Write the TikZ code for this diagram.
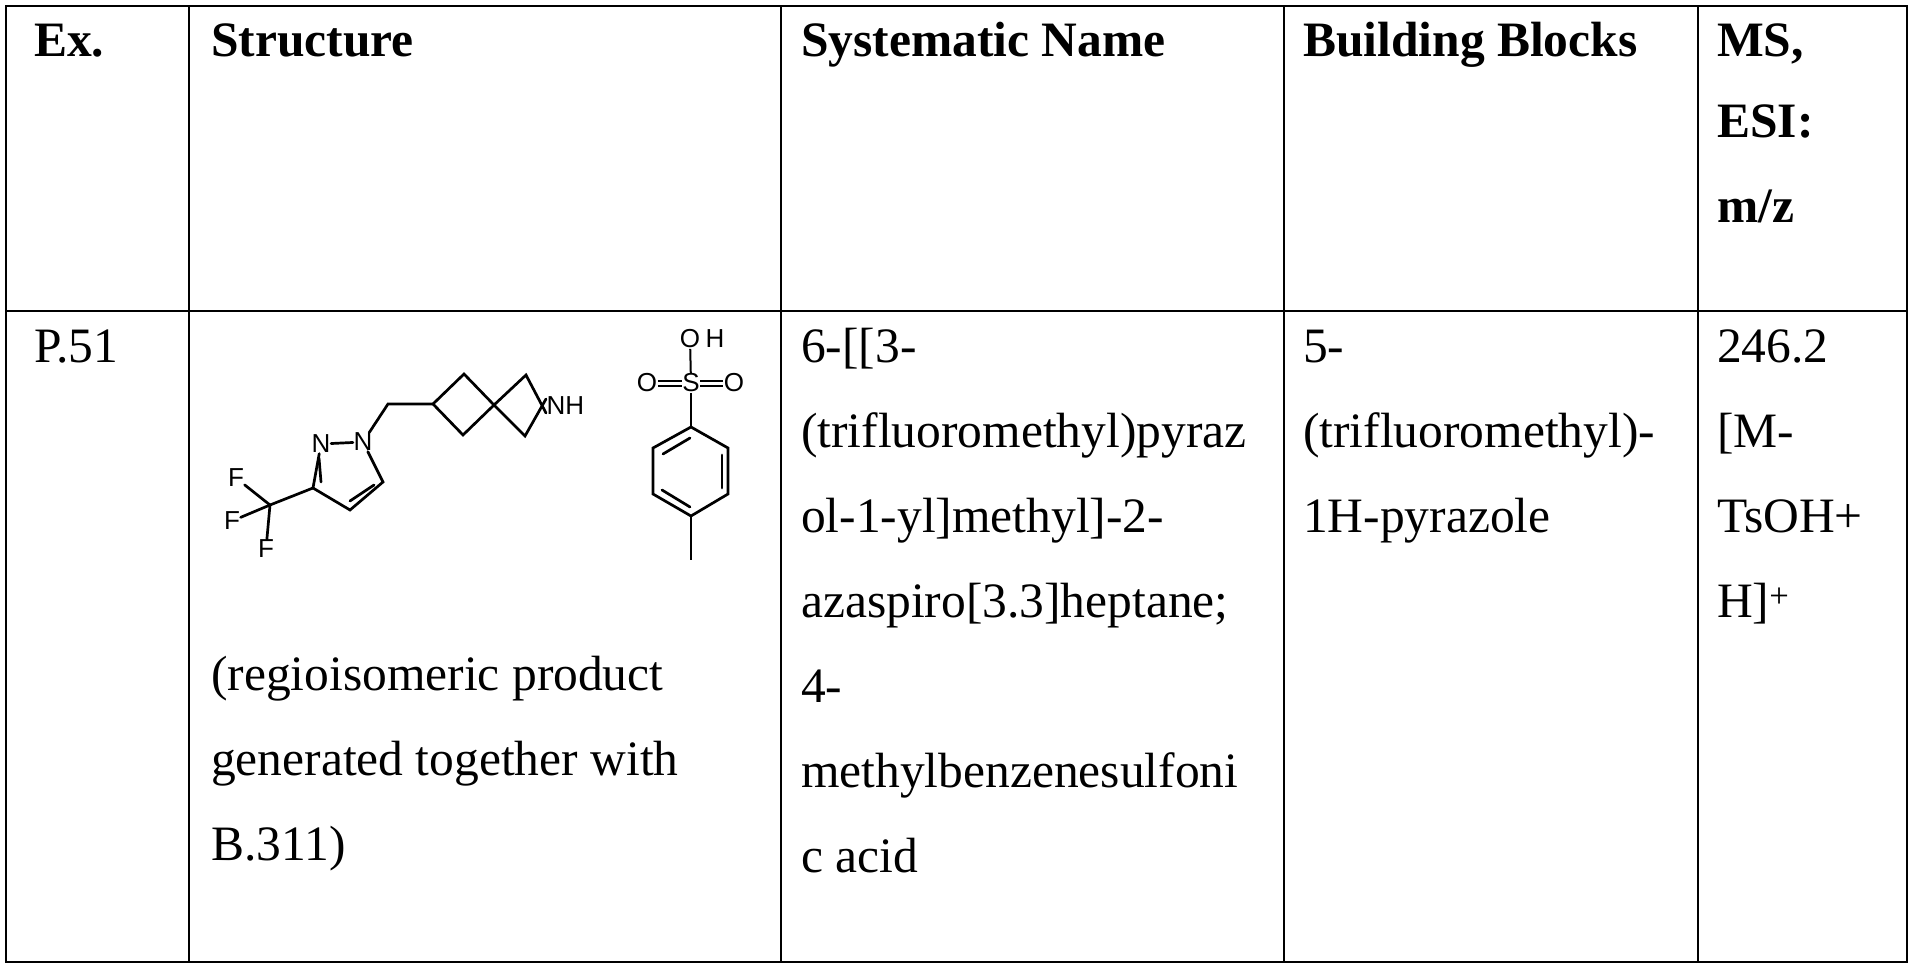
\documentclass[tikz,border=0pt]{standalone}
\usepackage{fontspec}
\setmainfont{Liberation Serif}
\newfontfamily\chemfont{Liberation Sans}
\begin{document}
\begin{tikzpicture}[x=1pt,y=-1pt,
  txt/.style={anchor=base west,inner sep=0pt,font=\fontsize{49.5}{85}\selectfont},
  hdr/.style={txt,font=\fontsize{49.5}{85}\selectfont\bfseries},
  grid/.style={line width=2pt},
  bond/.style={line width=2.7pt,line cap=round},
  thin/.style={line width=2pt},
  atom/.style={inner sep=0.5pt,font=\chemfont\fontsize{26}{26}\selectfont}]
\useasboundingbox (0,0) rectangle (1913,973);
\fill[white] (0,0) rectangle (1913,973);
% grid
\draw[grid] (6,6) rectangle (1907,962);
\draw[grid] (6,311) -- (1907,311);
\foreach \xx in {189,781,1284,1698} \draw[grid] (\xx,6) -- (\xx,962);
% header
\node[hdr] (h1) at (34,57) {Ex.};
\node[hdr] (h2) at (211,57) {Structure};
\node[hdr] (h3) at (801,57) {Systematic Name};
\node[hdr] (h4) at (1303,57) {Building Blocks};
\node[hdr] (h5a) at (1717,57) {MS,};
\node[hdr] (h5b) at (1717,138) {ESI:};
\node[hdr] (h5c) at (1717,223) {m/z};
% row
\node[txt] (ex) at (34,362) {P.51};
\foreach \t [count=\i] in {6-[[3-,(trifluoromethyl)pyraz,ol-1-yl]methyl]-2-,azaspiro[3.3]heptane;,4-,methylbenzenesulfoni,c acid}
  \node[txt] (sn\i) at (801,362+85*\i-85) {\t};
\node[txt] (bb1) at (1303,362) {5-};
\node[txt] (bb2) at (1303,447) {(trifluoromethyl)-};
\node[txt] (bb3) at (1303,532) {1H-pyrazole};
\node[txt] (ms1) at (1717,362) {246.2};
\node[txt] (ms2) at (1717,447) {[M-};
\node[txt] (ms3) at (1717,532) {TsOH+};
\node[txt] (ms4) at (1717,617) {H]\textsuperscript{+}};
\node[txt] (c1) at (211,690) {(regioisomeric product};
\node[txt] (c2) at (211,775) {generated together with};
\node[txt] (c3) at (211,860) {B.311)};
% structure: pyrazole
\node[atom] (n2) at (321,444) {N};
\node[atom] (n1) at (363,442) {N};
\coordinate (c5) at (383,482);
\coordinate (c4) at (350,510);
\coordinate (c3a) at (313,488);
\draw[bond] (n2) -- (n1);
\draw[bond] (n1) -- (c5) -- (c4) -- (c3a) -- (n2);
\draw[bond] (374,485) -- (350,501);
\draw[bond] (319,458) -- (321,482);
% CF3
\coordinate (cf) at (270,505);
\node[atom] (f1) at (236,478) {F};
\node[atom] (f2) at (232,521) {F};
\node[atom] (f3) at (266,549) {F};
\draw[bond] (c3a) -- (cf);
\draw[bond] (cf) -- (f1); \draw[bond] (cf) -- (f2); \draw[bond] (cf) -- (f3);
% CH2 and cyclobutane
\coordinate (ch2) at (388,404);
\coordinate (q1) at (433,404);
\coordinate (q2) at (464,374);
\coordinate (sp) at (494,405);
\coordinate (q4) at (463,435);
\draw[bond] (n1) -- (ch2) -- (q1);
\draw[bond] (q1) -- (q2) -- (sp) -- (q4) -- (q1);
% azetidine
\coordinate (a1) at (526,375);
\coordinate (a2) at (525,436);
\node[atom,anchor=west] (nh) at (546,406) {NH};
\draw[bond] (sp) -- (a1) -- ([yshift=-7]nh.west);
\draw[bond] (sp) -- (a2) -- ([yshift=7]nh.west);
% tosylate
\node[atom] (s) at (691,383) {S};
\node[atom] (oh) at (690,339) {O};
\node[atom] (h) at (715,339) {H};
\node[atom] (ol) at (647,383) {O};
\node[atom] (or) at (734,383) {O};
\draw[thin] (s) -- (oh);
\draw[thin] ([yshift=-2.5]ol.east) -- ([yshift=-2.5]s.west);
\draw[thin] ([yshift=2.5]ol.east) -- ([yshift=2.5]s.west);
\draw[thin] ([yshift=-2.5]s.east) -- ([yshift=-2.5]or.west);
\draw[thin] ([yshift=2.5]s.east) -- ([yshift=2.5]or.west);
\coordinate (r1) at (691,427);
\coordinate (r2) at (653,448);
\coordinate (r3) at (653,494);
\coordinate (r4) at (691,516);
\coordinate (r5) at (728,494);
\coordinate (r6) at (728,448);
\coordinate (me) at (691,560);
\draw[thin] (s) -- (r1);
\draw[bond] (r1) -- (r2) -- (r3) -- (r4) -- (r5) -- (r6) -- cycle;
\draw[thin] (r4) -- (me);
\draw[bond] (663,454) -- (690,438);
\draw[bond] (662,490) -- (690,507);
\draw[bond] (722,455) -- (722,488);
\end{tikzpicture}
\end{document}
